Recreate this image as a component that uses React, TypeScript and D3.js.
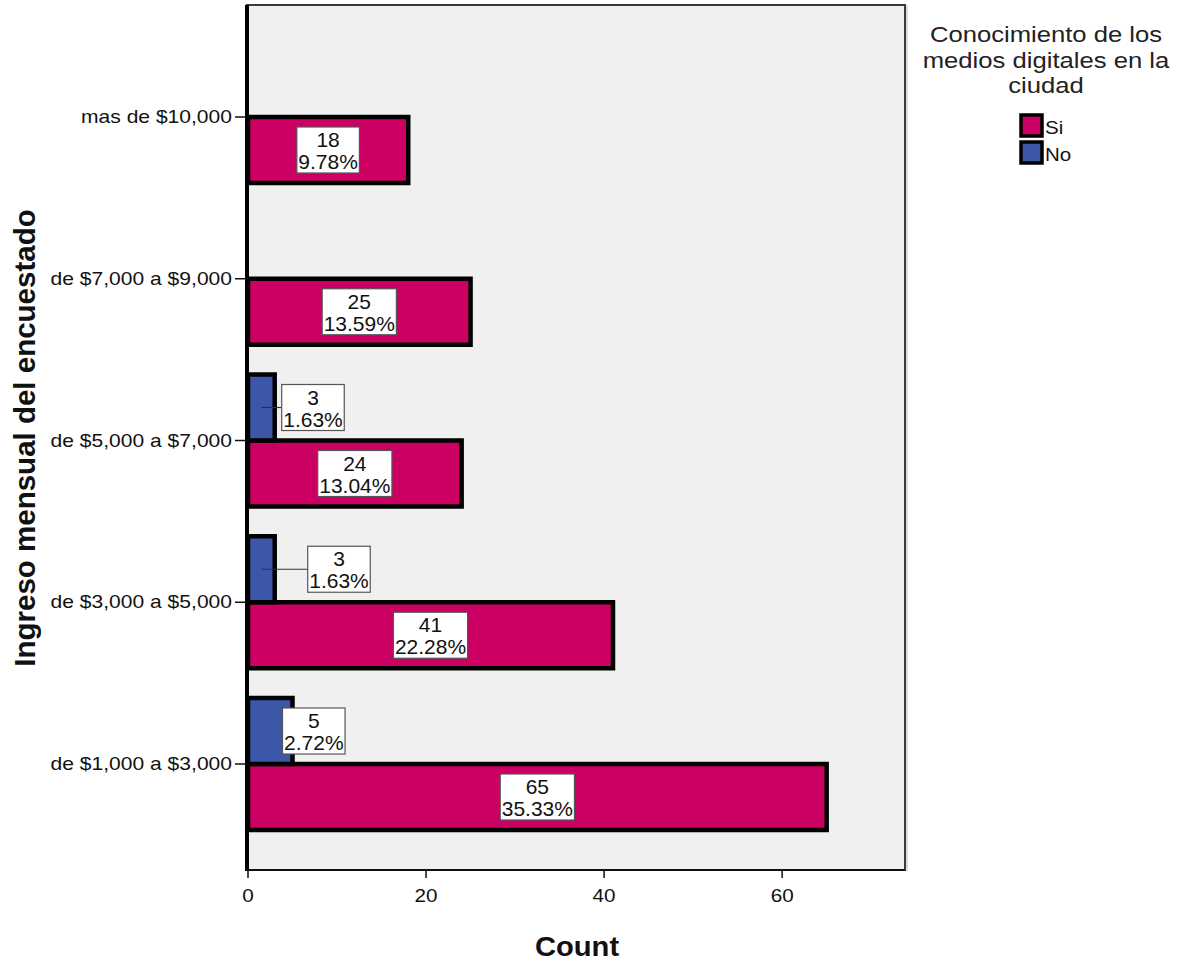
import React from "react";
import * as d3 from "d3";

const categories = [
  "de $1,000 a $3,000",
  "de $3,000 a $5,000",
  "de $5,000 a $7,000",
  "de $7,000 a $9,000",
  "mas de $10,000",
];
const siCounts = [65, 41, 24, 25, 18];
const siPct = ["35.33%", "22.28%", "13.04%", "13.59%", "9.78%"];
const noCounts: (number | null)[] = [5, 3, 3, null, null];
const noPct: (string | null)[] = ["2.72%", "1.63%", "1.63%", null, null];
const xTicks = [0, 20, 40, 60];
const seriesNames = ["Si", "No"];
const legendTitle = ["Conocimiento de los", "medios digitales en la", "ciudad"];
const xTitle = "Count";
const yTitle = "Ingreso mensual del encuestado";

// layout (not data)
const noLabelDx = [-10, 33, 7, 0, 0];
const COLORS = { si: "#cc0062", no: "#3d57a8" };
const FONT = "'Liberation Sans', Arial, sans-serif";

const L = 247, R = 905, T = 5, B = 870;

function charW(c: string) {
  if (c === "." || c === ",") return 0.278;
  if (c === "%") return 0.889;
  return 0.556;
}
function textW(s: string, size: number, sx: number) {
  let w = 0;
  for (const c of s) w += charW(c);
  return w * size * sx;
}

function SText(props: {
  x: number; y: number; sx?: number; size: number; anchor?: string;
  weight?: string | number; fill?: string; children: React.ReactNode;
}) {
  const { x, y, sx = 1, size, anchor = "start", weight = "normal", fill = "#111" } = props;
  return (
    <text
      transform={`translate(${x},${y}) scale(${sx},1)`}
      textAnchor={anchor as any}
      fontSize={size}
      fontFamily={FONT}
      fontWeight={weight as any}
      fill={fill}
    >
      {props.children}
    </text>
  );
}

export default function App() {
  const x = d3.scaleLinear().domain([0, 73.8]).range([L + 1, R]);
  const y = d3.scalePoint<string>().domain(categories.slice().reverse()).range([117, 764]).padding(0);
  const barH = 66;
  const labSize = 20, labSx = 1.05;

  const labelBox = (cx: number, cy: number, a: string, b: string, anchor: "middle" | "start", key: string) => {
    const w = Math.max(textW(a, labSize, labSx), textW(b, labSize, labSx)) + 3;
    const left = anchor === "middle" ? cx - w / 2 : cx;
    const mid = left + w / 2;
    return (
      <g key={key}>
        <rect x={left} y={cy - 23} width={w} height={46} fill="#fff" stroke="#555" strokeWidth={1.2} />
        <SText x={mid} y={cy - 3} size={labSize} sx={labSx} anchor="middle">{a}</SText>
        <SText x={mid} y={cy + 19} size={labSize} sx={labSx} anchor="middle">{b}</SText>
      </g>
    );
  };

  return (
    <svg width={1190} height={963} style={{ position: "absolute", left: 0, top: 0, background: "#fff" }}>
      {/* plot background */}
      <rect x={L} y={T} width={R - L} height={B - T} fill="#f0f0f0" stroke="#3a3a3a" strokeWidth={2} />
      <line x1={R + 2} y1={T} x2={R + 2} y2={B + 1} stroke="#bbb" strokeWidth={1} />

      {/* bars */}
      {categories.map((c, i) => {
        const yc = y(c)!;
        const out: React.ReactNode[] = [];
        out.push(
          <rect key={"si" + i} x={x(0)} y={yc} width={x(siCounts[i]) - x(0)} height={barH}
            fill={COLORS.si} stroke="#000" strokeWidth={4.5} />
        );
        const nv = noCounts[i];
        if (nv != null) {
          out.push(
            <rect key={"no" + i} x={x(0)} y={yc - barH} width={x(nv) - x(0)} height={barH}
              fill={COLORS.no} stroke="#000" strokeWidth={4.5} />
          );
        }
        return <g key={c}>{out}</g>;
      })}

      {/* left & bottom axis lines */}
      <line x1={L} y1={T} x2={L} y2={B + 1} stroke="#000" strokeWidth={4} />
      <line x1={L} y1={B} x2={R} y2={B} stroke="#111" strokeWidth={2} />

      {/* labels */}
      {categories.map((c, i) => {
        const yc = y(c)!;
        const out: React.ReactNode[] = [];
        const sxm = (x(0) + x(siCounts[i])) / 2;
        out.push(labelBox(sxm, yc + barH / 2, String(siCounts[i]), siPct[i], "middle", "sl" + i));
        const nv = noCounts[i];
        if (nv != null && noPct[i] != null) {
          const cy = yc - barH / 2;
          const left = x(nv) + noLabelDx[i];
          if (left > x(nv)) {
            out.push(<line key={"ld" + i} x1={(x(0) + x(nv)) / 2} y1={cy} x2={left} y2={cy} stroke="#333" strokeWidth={1.2} />);
          }
          out.push(labelBox(left, cy, String(nv), noPct[i]!, "start", "nl" + i));
        }
        return <g key={"lab" + c}>{out}</g>;
      })}

      {/* x ticks */}
      {xTicks.map((t) => (
        <g key={"xt" + t}>
          <line x1={x(t)} y1={B} x2={x(t)} y2={B + 8} stroke="#111" strokeWidth={1.5} />
          <SText x={x(t)} y={902} size={18} sx={1.15} anchor="middle">{t}</SText>
        </g>
      ))}

      {/* y ticks */}
      {categories.map((c) => (
        <g key={"yt" + c}>
          <line x1={235} y1={y(c)!} x2={L} y2={y(c)!} stroke="#111" strokeWidth={1.5} />
          <SText x={232} y={y(c)! + 6} size={18} sx={1.17} anchor="end">{c}</SText>
        </g>
      ))}

      {/* axis titles */}
      <SText x={577} y={956} size={27} sx={1.08} anchor="middle" weight="bold">{xTitle}</SText>
      <text transform={`translate(35,438) rotate(-90)`} textAnchor="middle" fontSize={29.5}
        fontFamily={FONT} fontWeight="bold" fill="#111">{yTitle}</text>

      {/* legend */}
      {legendTitle.map((t, i) => (
        <SText key={"lt" + i} x={1046} y={42 + i * 25.5} size={22.5} sx={1.14} anchor="middle" fill="#222">{t}</SText>
      ))}
      {seriesNames.map((s, i) => (
        <g key={"lg" + s}>
          <rect x={1021} y={115 + i * 27} width={21} height={21} fill={i === 0 ? COLORS.si : COLORS.no} stroke="#000" strokeWidth={3.5} />
          <SText x={1045} y={134 + i * 27} size={19} sx={1.08} fill="#111">{s}</SText>
        </g>
      ))}
    </svg>
  );
}
